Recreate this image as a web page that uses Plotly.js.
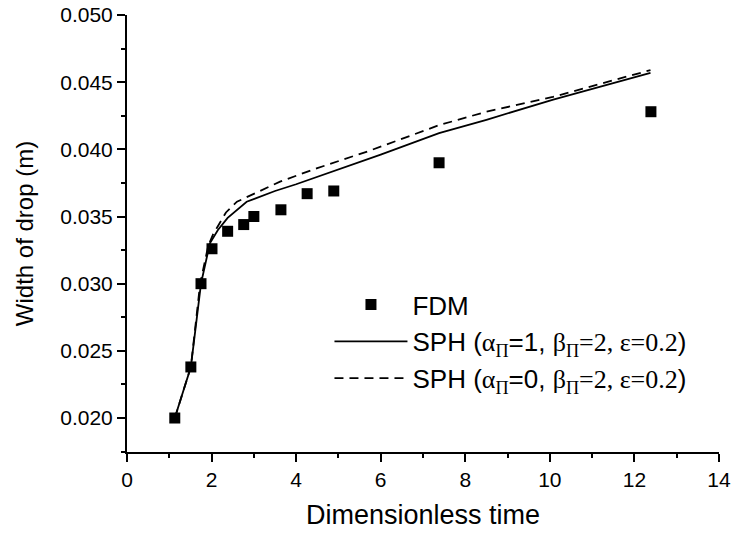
<!DOCTYPE html>
<html>
<head>
<meta charset="utf-8">
<script src="https://cdn.plot.ly/plotly-3.0.1.min.js"></script>
<style>html,body{margin:0;padding:0;background:#fff;}#chart{width:734px;height:533px;}</style>
</head>
<body>
<div id="chart"></div>
<script>
// FDM reference points
const fdmTime = [1.13, 1.51, 1.75, 2.01, 2.38, 2.76, 3.00, 3.64, 4.26, 4.89, 7.38, 12.39];
const fdmWidth = [0.0200, 0.0238, 0.0300, 0.0326, 0.0339, 0.0344, 0.0350, 0.0355, 0.0367, 0.0369, 0.0390, 0.0428];

// SPH (alpha=1, beta=2, eps=0.2)
const sph1Time = [1.13, 1.51, 1.75, 1.96, 2.15, 2.38, 2.83, 3.5, 4.0, 5.0, 6.0, 7.38, 8.5, 10.08, 11.2, 12.38];
const sph1Width = [0.0200, 0.0238, 0.0300, 0.0330, 0.0340, 0.0349, 0.0361, 0.0369, 0.0374, 0.0385, 0.0396, 0.0412, 0.0422, 0.0437, 0.0447, 0.0457];

// SPH (alpha=0, beta=2, eps=0.2)
const sph0Time = [1.13, 1.51, 1.73, 1.92, 2.04, 2.34, 2.6, 3.0, 3.62, 4.5, 5.74, 7.38, 8.5, 10.07, 11.2, 12.38];
const sph0Width = [0.0200, 0.0238, 0.0300, 0.0328, 0.0337, 0.0353, 0.0361, 0.0367, 0.0376, 0.0386, 0.0399, 0.0418, 0.0428, 0.0439, 0.0449, 0.0459];

const xTickVals = [0, 2, 4, 6, 8, 10, 12, 14];
const yTickVals = [0.020, 0.025, 0.030, 0.035, 0.040, 0.045, 0.050];
const yTickText = ["0.020", "0.025", "0.030", "0.035", "0.040", "0.045", "0.050"];

const serif = (s) => '<span style="font-family:Liberation Serif">' + s + '</span>';
const name1 = 'SPH (' + serif('α') + '<sub>' + serif('Π') + '</sub>=1, ' + serif('β') + '<sub>' + serif('Π') + '</sub>' + serif('=2, ε=0.2') + ')';
const name0 = 'SPH (' + serif('α') + '<sub>' + serif('Π') + '</sub>=0, ' + serif('β') + '<sub>' + serif('Π') + '</sub>' + serif('=2, ε=0.2') + ')';

const traces = [
  {x: fdmTime, y: fdmWidth, mode: 'markers', name: 'FDM',
   marker: {symbol: 'square', size: 11, color: '#000'}},
  {x: sph1Time, y: sph1Width, mode: 'lines', name: name1,
   line: {color: '#000', width: 1.8}},
  {x: sph0Time, y: sph0Width, mode: 'lines', name: name0,
   line: {color: '#000', width: 1.8, dash: '9px,6px'}}
];

const axisCommon = {
  showline: true, linecolor: '#000', linewidth: 2,
  ticks: 'outside', ticklen: 8, tickwidth: 2, tickcolor: '#000',
  showgrid: false, zeroline: false, mirror: false,
  tickfont: {family: 'Liberation Sans, Arial, sans-serif', size: 21, color: '#000'}
};

const layout = {
  width: 734, height: 533,
  margin: {l: 127, r: 15, t: 15, b: 81},
  paper_bgcolor: '#fff', plot_bgcolor: '#fff',
  font: {family: 'Liberation Sans, Arial, sans-serif', color: '#000'},
  showlegend: true,
  legend: {x: 0.342, y: 0.391, xanchor: 'left', yanchor: 'top',
           bgcolor: 'rgba(0,0,0,0)', borderwidth: 0,
           font: {size: 26, color: '#000'}, itemwidth: 73, tracegroupgap: 0},
  xaxis: Object.assign({}, axisCommon, {
    range: [0, 14], tickvals: xTickVals,
    minor: {dtick: 1, tick0: 0, ticklen: 4, tickwidth: 2, tickcolor: '#000', ticks: 'outside', showgrid: false},
    title: {text: 'Dimensionless time', font: {size: 27, color: '#000'}, standoff: 15}
  }),
  yaxis: Object.assign({}, axisCommon, {
    range: [0.01747, 0.050], tickvals: yTickVals, ticktext: yTickText,
    minor: {dtick: 0.0025, tick0: 0.020, ticklen: 4, tickwidth: 2, tickcolor: '#000', ticks: 'outside', showgrid: false},
    title: {text: '\u00a0\u00a0\u00a0\u00a0\u00a0Width of drop (m)', font: {size: 24, color: '#000'}, standoff: 20}
  })
};

Plotly.newPlot('chart', traces, layout, {displayModeBar: false, staticPlot: true});
</script>
</body>
</html>
